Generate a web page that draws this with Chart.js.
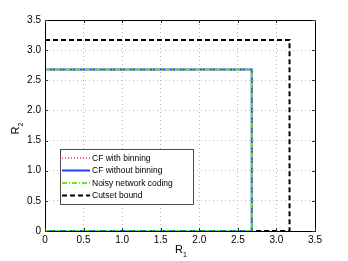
<!DOCTYPE html>
<html>
<head>
<meta charset="utf-8">
<script src="https://cdn.jsdelivr.net/npm/chart.js@4"></script>
<style>
  html, body { margin: 0; padding: 0; background: #fff; }
  #wrap { width: 348px; height: 261px; }
</style>
</head>
<body>
<div id="wrap"><canvas id="rateChart"></canvas></div>
<script>
// Rate region corners
const seriesLabels = ['CF with binning', 'CF without binning', 'Noisy network coding', 'Cutset bound'];
const cfBinX = [0, 2.68, 2.68, 0];
const cfBinY = [2.68, 2.68, 0, 0];
const cfNoBinX = [0, 2.68, 2.68, 0];
const cfNoBinY = [2.68, 2.68, 0, 0];
const nncX = [0, 2.68, 2.68, 0];
const nncY = [2.68, 2.68, 0, 0];
const cutsetX = [0, 3.17, 3.17, 0];
const cutsetY = [3.17, 3.17, 0, 0];
const axisTicks = [0, 0.5, 1, 1.5, 2, 2.5, 3, 3.5];

const FONT = '"Liberation Sans", Arial, Helvetica, sans-serif';

function toPoints(xs, ys) {
    return xs.map((x, i) => ({ x: x, y: ys[i] }));
}

const styles = [
    { color: '#ff3333', dash: [1, 2], width: 1.5 },
    { color: '#1f3fff', dash: [], width: 2 },
    { color: '#66ee11', dash: [5, 2, 1, 2], width: 2 },
    { color: '#000000', dash: [5, 3], width: 2 }
];

const allX = [cfBinX, cfNoBinX, nncX, cutsetX];
const allY = [cfBinY, cfNoBinY, nncY, cutsetY];
const drawOrder = [2, 1, 0, 3];

const datasets = seriesLabels.map((label, i) => ({
    label: label,
    data: toPoints(allX[i], allY[i]),
    showLine: true,
    fill: false,
    borderColor: styles[i].color,
    borderDash: styles[i].dash,
    borderWidth: styles[i].width,
    pointRadius: 0,
    tension: 0,
    order: drawOrder[i]
}));

// Box, inward ticks, axis titles and legend like MATLAB
const matlabFrame = {
    id: 'matlabFrame',
    afterDraw(chart) {
        const ctx = chart.ctx;
        const a = chart.chartArea;
        const xs = chart.scales.x;
        const ys = chart.scales.y;
        ctx.save();
        ctx.strokeStyle = '#000';
        ctx.lineWidth = 1;
        ctx.setLineDash([]);
        ctx.strokeRect(Math.round(a.left) + 0.5, Math.round(a.top) + 0.5,
            Math.round(a.right - a.left), Math.round(a.bottom - a.top));

        ctx.strokeStyle = '#333';
        ctx.beginPath();
        axisTicks.forEach(t => {
            const px = Math.round(xs.getPixelForValue(t)) + 0.5;
            ctx.moveTo(px, a.bottom); ctx.lineTo(px, a.bottom - 3);
            ctx.moveTo(px, a.top); ctx.lineTo(px, a.top + 3);
            const py = Math.round(ys.getPixelForValue(t)) + 0.5;
            ctx.moveTo(a.left, py); ctx.lineTo(a.left + 3, py);
            ctx.moveTo(a.right, py); ctx.lineTo(a.right - 3, py);
        });
        ctx.stroke();

        // axis titles with subscripts
        ctx.fillStyle = '#000';
        ctx.textBaseline = 'alphabetic';
        ctx.font = '11px ' + FONT;
        const cx = (a.left + a.right) / 2;
        ctx.textAlign = 'left';
        ctx.fillText('R', cx - 5, 253);
        ctx.font = '7px ' + FONT;
        ctx.fillText('1', cx + 3, 257);

        ctx.save();
        ctx.translate(19, (a.top + a.bottom) / 2 + 4);
        ctx.rotate(-Math.PI / 2);
        ctx.font = '11px ' + FONT;
        ctx.fillText('R', -5, 0);
        ctx.font = '7px ' + FONT;
        ctx.fillText('2', 3, 4);
        ctx.restore();

        // legend box
        const lx = 60, ly = 149, lw = 133, lh = 55;
        ctx.fillStyle = '#fff';
        ctx.fillRect(lx, ly, lw, lh);
        ctx.strokeStyle = '#222';
        ctx.lineWidth = 0.8;
        ctx.strokeRect(lx + 0.5, ly + 0.5, lw, lh);
        ctx.font = '8.5px ' + FONT;
        ctx.textBaseline = 'middle';
        const rows = [158, 170.5, 183, 195.5];
        seriesLabels.forEach((label, i) => {
            ctx.beginPath();
            ctx.strokeStyle = styles[i].color;
            ctx.lineWidth = styles[i].width;
            ctx.setLineDash(styles[i].dash);
            ctx.moveTo(62, rows[i]);
            ctx.lineTo(90, rows[i]);
            ctx.stroke();
            ctx.setLineDash([]);
            ctx.fillStyle = '#000';
            ctx.fillText(label, 92, rows[i] + 0.5);
        });
        ctx.restore();
    }
};

new Chart(document.getElementById('rateChart'), {
    type: 'scatter',
    data: { datasets: datasets },
    options: {
        responsive: true,
        maintainAspectRatio: false,
        animation: false,
        layout: { padding: { top: 20, right: 33, left: 0, bottom: 0 } },
        plugins: {
            legend: { display: false },
            tooltip: { enabled: false }
        },
        scales: {
            x: {
                type: 'linear',
                min: 0,
                max: 3.5,
                afterFit: scale => { scale.height = 30; },
                afterBuildTicks: scale => { scale.ticks = axisTicks.map(v => ({ value: v })); },
                ticks: {
                    color: '#000',
                    padding: 3,
                    font: { family: FONT, size: 10 },
                    maxRotation: 0
                },
                grid: { color: '#b8b8b8', lineWidth: 1, drawTicks: false },
                border: { display: false, dash: [1, 3] }
            },
            y: {
                type: 'linear',
                min: 0,
                max: 3.5,
                afterFit: scale => { scale.width = 45; },
                afterBuildTicks: scale => { scale.ticks = axisTicks.map(v => ({ value: v })); },
                ticks: {
                    color: '#000',
                    padding: 4,
                    font: { family: FONT, size: 10 }
                },
                grid: { color: '#b8b8b8', lineWidth: 1, drawTicks: false },
                border: { display: false, dash: [1, 3] }
            }
        }
    },
    plugins: [matlabFrame]
});
</script>
</body>
</html>
